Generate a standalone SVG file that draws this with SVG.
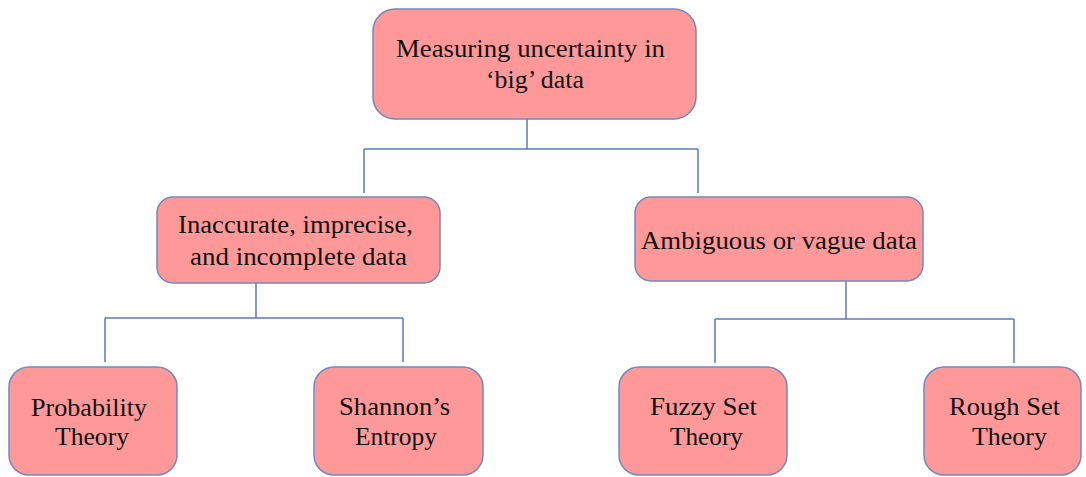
<svg xmlns="http://www.w3.org/2000/svg" width="1086" height="477" viewBox="0 0 1086 477">
<style>
.box{fill:#FF9999;stroke:#7189BD;stroke-width:1.5}
.t{font-family:"Liberation Serif","Times New Roman",serif;font-size:25px;fill:#111}
.b{font-size:26px}
.c{fill:none;stroke:#5A7DB3;stroke-width:1.5}
</style>
<rect width="1086" height="477" fill="#ffffff"/>
<g id="connectors">
<path class="c" d="M527,119 V149 M364,149 H698 M364,149 V193 M698,149 V193"/>
<path class="c" d="M256,283 V318 M105,318 H403 M105,318 V362 M403,318 V362"/>
<path class="c" d="M846,281 V319 M715,319 H1014 M715,319 V363 M1014,319 V363"/>
</g>
<g id="root">
<rect class="box" x="373" y="9" width="323" height="110" rx="22"/>
<text class="t" x="396" y="57" textLength="269" lengthAdjust="spacingAndGlyphs">Measuring uncertainty in</text>
<text class="t" x="486" y="88" textLength="98" lengthAdjust="spacingAndGlyphs">‘big’ data</text>
</g>
<g id="inaccurate">
<rect class="box" x="157" y="197" width="283" height="86" rx="16"/>
<text class="t" x="178" y="233" textLength="235" lengthAdjust="spacingAndGlyphs">Inaccurate, imprecise,</text>
<text class="t" x="190" y="265" textLength="217" lengthAdjust="spacingAndGlyphs">and incomplete data</text>
</g>
<g id="ambiguous">
<rect class="box" x="635" y="197" width="288" height="84" rx="16"/>
<text class="t" x="641" y="249" textLength="276" lengthAdjust="spacingAndGlyphs">Ambiguous or vague data</text>
</g>
<g id="probability">
<rect class="box" x="9" y="367" width="168" height="108" rx="20"/>
<text class="t b" x="31" y="416" textLength="116" lengthAdjust="spacingAndGlyphs">Probability</text>
<text class="t b" x="55" y="445" textLength="74" lengthAdjust="spacingAndGlyphs">Theory</text>
</g>
<g id="shannon">
<rect class="box" x="314" y="367" width="169" height="108" rx="20"/>
<text class="t b" x="339" y="415" textLength="111" lengthAdjust="spacingAndGlyphs">Shannon’s</text>
<text class="t b" x="355" y="445" textLength="82" lengthAdjust="spacingAndGlyphs">Entropy</text>
</g>
<g id="fuzzy">
<rect class="box" x="619" y="367" width="168" height="108" rx="20"/>
<text class="t b" x="650" y="415" textLength="107" lengthAdjust="spacingAndGlyphs">Fuzzy Set</text>
<text class="t b" x="670" y="445" textLength="73" lengthAdjust="spacingAndGlyphs">Theory</text>
</g>
<g id="rough">
<rect class="box" x="924" y="367" width="157" height="108" rx="20"/>
<text class="t b" x="949" y="415" textLength="111" lengthAdjust="spacingAndGlyphs">Rough Set</text>
<text class="t b" x="972" y="445" textLength="75" lengthAdjust="spacingAndGlyphs">Theory</text>
</g>
</svg>
